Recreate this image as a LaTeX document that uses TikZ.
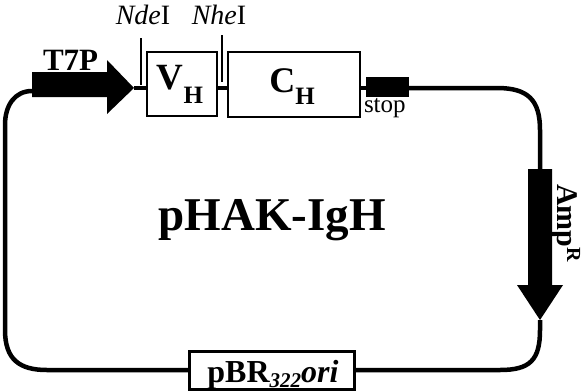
\documentclass[tikz,border=0pt]{standalone}
\usepackage{fontspec}
\setmainfont{Liberation Serif}
\begin{document}
\begin{tikzpicture}[x=1pt,y=-1pt,
  loopline/.style={line width=4.5pt},
  genebox/.style={draw,line width=2pt,fill=white},
  tick/.style={line width=1.5pt},
  lbl/.style={inner sep=0,outer sep=0}]
\useasboundingbox (0,0) rectangle (585,391);
% coordinates
\coordinate (t7tail) at (32,91);
\coordinate (t7tip) at (134,88);
\coordinate (amptop) at (540,169);
\coordinate (amptip) at (540,320);
% boxes
\draw[genebox] (147,52) rectangle (217,116);
\node[lbl,minimum width=70pt,minimum height=64pt] (vh) at (182,84) {};
\draw[genebox] (228,52) rectangle (360,117);
\node[lbl,minimum width=132pt,minimum height=65pt] (ch) at (294,84.5) {};
\fill (366,77) rectangle (409,97);
\node[lbl,minimum width=43pt,minimum height=20pt] (stop) at (387.5,87) {};
\draw[line width=3pt,fill=white] (189,351) rectangle (354,389);
\node[lbl,minimum width=165pt,minimum height=38pt] (pbr) at (271.5,370) {};
% texts
\node[lbl,font=\fontsize{37}{37}\selectfont\bfseries,anchor=base] (vhl) at (180,89) {V\raisebox{-14pt}{\fontsize{25}{25}\selectfont H}};
\node[lbl,font=\fontsize{36}{36}\selectfont\bfseries,anchor=base] (chl) at (292,92) {C\raisebox{-12pt}{\fontsize{25}{25}\selectfont H}};
\node[lbl,font=\fontsize{31}{31}\selectfont\bfseries,anchor=base west] (t7l) at (43,70) {T7P};
\node[lbl,font=\fontsize{25}{25}\selectfont,anchor=base west] (stopl) at (364,112) {stop};
\node[lbl,font=\fontsize{28}{28}\selectfont,anchor=base] (nde) at (143,24) {\textit{Nde}I};
\node[lbl,font=\fontsize{28}{28}\selectfont,anchor=base] (nhe) at (219,24) {\textit{Nhe}I};
\node[lbl,font=\fontsize{47}{47}\selectfont\bfseries,anchor=base] (title) at (272,230) {pHAK-IgH};
\node[lbl,font=\fontsize{30}{30}\selectfont\bfseries,anchor=base west,rotate=-90] (amp) at (557,184) {Amp\raisebox{10pt}{\fontsize{20}{20}\selectfont R}};
\node[lbl,font=\fontsize{32}{32}\selectfont\bfseries,anchor=base] (pbrl) at (273,382) {pBR\raisebox{-5pt}{\fontsize{21}{21}\selectfont\itshape 322}\textit{ori}};
% ticks
\draw[tick] (141,38) -- (141,85);
\draw[tick] (222,35) -- (222,82);
% arrows
\fill (32,72) -- (107,72) -- (107,60) -- (t7tip) -- (107,114) -- (107,97) -- (32,97) -- cycle;
\fill (528,169) -- (552,169) -- (552,285) -- (563,285) -- (amptip) -- (517,285) -- (528,285) -- cycle;
% loop connectors
\draw[loopline] (t7tip) -- (vh.west |- t7tip);
\draw[loopline] (vh.east |- t7tip) -- (ch.west |- t7tip);
\draw[loopline] (ch.east |- t7tip) -- (stop.west |- t7tip);
\draw[loopline] (stop.east |- t7tip) -- (497,88) .. controls (528,88) and (540,100) .. (540,130) -- (amptop);
\draw[loopline] (amptip) -- (540,330) .. controls (540,360) and (530,370) .. (500,370) -- (pbr.east);
\draw[loopline] (pbr.west) -- (47,370) .. controls (20,370) and (5,360) .. (5,330) -- (5,125) .. controls (5,105) and (15,91) .. (t7tail);
\end{tikzpicture}
\end{document}
